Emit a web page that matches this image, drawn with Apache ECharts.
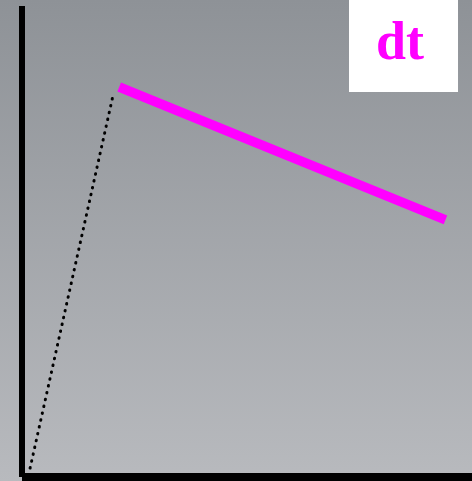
<!DOCTYPE html>
<html>
<head>
<meta charset="utf-8">
<script src="https://cdn.jsdelivr.net/npm/echarts@6/dist/echarts.min.js"></script>
<style>
  html, body { margin: 0; padding: 0; }
  #chart { width: 472px; height: 481px; }
</style>
</head>
<body>
<div id="chart"></div>
<script>
// values (axes run 0..100, no labels shown)
var leadX = [1.8, 20.2];
var leadY = [1.9, 80.9];
var dtX = [21.6, 94.1];
var dtY = [82.8, 54.6];
var seriesName = "dt";

function pairs(xs, ys) {
  return xs.map(function (x, i) { return [x, ys[i]]; });
}

var myChart = echarts.init(document.getElementById("chart"));
var option = {
  animation: false,
  backgroundColor: {
    type: "linear", x: 0, y: 0, x2: 0, y2: 1,
    colorStops: [
      { offset: 0, color: "#8e9297" },
      { offset: 1, color: "#b8babe" }
    ]
  },
  grid: { left: 22, right: 0, top: 6, bottom: 4 },
  legend: {
    data: [{ name: seriesName, icon: "none" }],
    left: 349,
    top: 0,
    itemWidth: 0,
    itemHeight: 0,
    backgroundColor: "#ffffff",
    padding: [18, 34, 20, 22],
    textStyle: {
      color: "#ff00ff",
      fontFamily: "Liberation Serif",
      fontWeight: "bold",
      fontSize: 54,
      lineHeight: 54
    }
  },
  xAxis: {
    type: "value",
    min: 0,
    max: 100,
    axisLine: { onZero: false, lineStyle: { color: "#000", width: 8, cap: "butt" } },
    axisTick: { show: false },
    axisLabel: { show: false },
    splitLine: { show: false }
  },
  yAxis: {
    type: "value",
    min: 0,
    max: 100,
    axisLine: { show: true, onZero: false, lineStyle: { color: "#000", width: 6, cap: "butt" } },
    axisTick: { show: false },
    axisLabel: { show: false },
    splitLine: { show: false }
  },
  series: [
    {
      type: "line",
      name: "lead",
      data: pairs(leadX, leadY),
      showSymbol: false,
      lineStyle: { color: "#000", width: 3, type: [0.5, 6.5], cap: "round" }
    },
    {
      type: "line",
      name: seriesName,
      data: pairs(dtX, dtY),
      showSymbol: false,
      lineStyle: { color: "#ff00ff", width: 9.5, cap: "butt" }
    }
  ]
};
option && myChart.setOption(option);
</script>
</body>
</html>
